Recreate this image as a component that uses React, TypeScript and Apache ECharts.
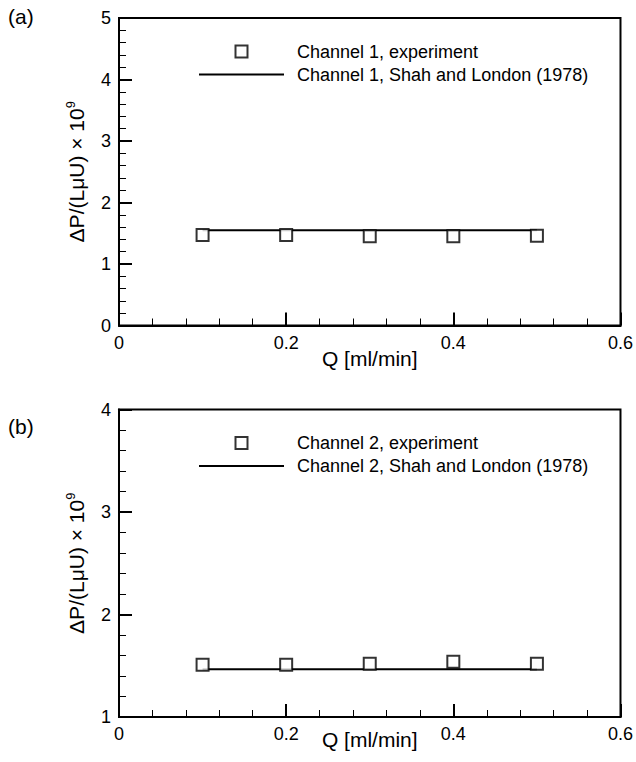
import React, { useEffect, useRef } from "react";
import * as echarts from "echarts";

// ---------- data ----------
const flowRates = [0.1, 0.2, 0.3, 0.4, 0.5];
const channel1Experiment = [1.47, 1.47, 1.45, 1.45, 1.46];
const channel1TheoryQ = [0.1, 0.5];
const channel1Theory = [1.55, 1.55];
const channel2Experiment = [1.51, 1.51, 1.52, 1.54, 1.52];
const channel2TheoryQ = [0.1, 0.5];
const channel2Theory = [1.465, 1.465];

const seriesNames = [
  "Channel 1, experiment",
  "Channel 1, Shah and London (1978)",
  "Channel 2, experiment",
  "Channel 2, Shah and London (1978)",
];
const panelLabels = ["(a)", "(b)"];
const xName = "Q [ml/min]";
const yNameMain = "ΔP/(LμU) × 10";
const yNameSup = "9";
const xRange = [0, 0.6];
const yRanges = [
  [0, 5],
  [1, 4],
];

const FONT = "'Liberation Sans', Arial, Helvetica, sans-serif";

function pairs(xs: number[], ys: number[]) {
  return xs.map((x, i) => [x, ys[i]]);
}

export default function App() {
  const ref = useRef<HTMLDivElement>(null);

  useEffect(() => {
    if (!ref.current) return;
    const chart = echarts.init(ref.current, undefined, { renderer: "svg" });

    const grids = [
      { left: 119, right: 15, top: 18, height: 307.5 },
      { left: 119, right: 15, top: 409.5, height: 307.5 },
    ];

    const makeX = (i: number, nameGap: number) => ({
      type: "value",
      gridIndex: i,
      min: xRange[0],
      max: xRange[1],
      interval: 0.2,
      name: xName,
      nameLocation: "middle",
      nameGap,
      nameMoveOverlap: false,
      nameTextStyle: { fontFamily: FONT, fontSize: 21, color: "#000" },
      axisLine: { show: true, onZero: false, lineStyle: { color: "#000", width: 2 } },
      axisTick: { show: true, inside: true, length: 13, lineStyle: { color: "#000", width: 2 } },
      minorTick: { show: true, splitNumber: 5, length: 7, lineStyle: { color: "#000", width: 1 } },
      splitLine: { show: false },
      minorSplitLine: { show: false },
      axisLabel: { fontFamily: FONT, fontSize: 18, color: "#000", margin: 8 },
    });

    const makeY = (i: number) => ({
      type: "value",
      gridIndex: i,
      min: yRanges[i][0],
      max: yRanges[i][1],
      interval: 1,
      name: `{m|${yNameMain}}{s|${yNameSup}}`,
      nameLocation: "middle",
      nameGap: 31,
      nameMoveOverlap: false,
      nameTextStyle: {
        fontFamily: FONT,
        fontSize: 21,
        color: "#000",
        rich: {
          m: { fontFamily: FONT, fontSize: 21, color: "#000", lineHeight: 24 },
          s: { fontFamily: FONT, fontSize: 13, color: "#000", verticalAlign: "top", lineHeight: 14 },
        },
      },
      axisLine: { show: true, onZero: false, lineStyle: { color: "#000", width: 2 } },
      axisTick: { show: true, inside: true, length: 13, lineStyle: { color: "#000", width: 2 } },
      minorTick: { show: true, splitNumber: 5, length: 7, lineStyle: { color: "#000", width: 1 } },
      splitLine: { show: false },
      minorSplitLine: { show: false },
      axisLabel: { fontFamily: FONT, fontSize: 18, color: "#000", margin: 8 },
    });

    const squareIcon = "path://M0 0H10V10H0Z";
    const lineIcon = "path://M0 0H85V2H0Z";

    const makeLegend = (top: number, expName: string, thName: string) => ({
      orient: "vertical",
      left: 199,
      top,
      padding: 0,
      itemGap: 5,
      itemWidth: 85,
      itemHeight: 12,
      selectedMode: false,
      textStyle: {
        fontFamily: FONT,
        fontSize: 18,
        color: "#000",
        padding: [0, 0, 0, 8],
      },
      data: [
        {
          name: expName,
          icon: squareIcon,
          itemStyle: { color: "#fff", borderColor: "#000", borderWidth: 2 },
        },
        {
          name: thName,
          icon: lineIcon,
          itemStyle: { color: "#000", borderWidth: 0 },
        },
      ],
    });

    const scatterStyle = { color: "#fff", borderColor: "#000", borderWidth: 2 };

    chart.setOption({
      animation: false,
      backgroundColor: "#fff",
      grid: grids.map((g) => ({ ...g, show: true, borderColor: "#000", borderWidth: 2, backgroundColor: "transparent" })),
      xAxis: [makeX(0, 22), makeX(1, 12)],
      yAxis: [makeY(0), makeY(1)],
      legend: [
        makeLegend(42.5, seriesNames[0], seriesNames[1]),
        makeLegend(434, seriesNames[2], seriesNames[3]),
      ],
      graphic: [
        {
          type: "text",
          left: 8,
          top: 6,
          style: { text: panelLabels[0], fontFamily: FONT, fontSize: 21, fill: "#000" },
        },
        {
          type: "text",
          left: 8,
          top: 416,
          style: { text: panelLabels[1], fontFamily: FONT, fontSize: 21, fill: "#000" },
        },
      ],
      series: [
        {
          name: seriesNames[0],
          type: "scatter",
          xAxisIndex: 0,
          yAxisIndex: 0,
          symbol: "rect",
          symbolSize: 12,
          itemStyle: scatterStyle,
          z: 3,
          data: pairs(flowRates, channel1Experiment),
        },
        {
          name: seriesNames[1],
          type: "line",
          xAxisIndex: 0,
          yAxisIndex: 0,
          symbol: "none",
          lineStyle: { color: "#000", width: 2 },
          itemStyle: { color: "#000" },
          z: 2,
          data: pairs(channel1TheoryQ, channel1Theory),
        },
        {
          name: seriesNames[2],
          type: "scatter",
          xAxisIndex: 1,
          yAxisIndex: 1,
          symbol: "rect",
          symbolSize: 12,
          itemStyle: scatterStyle,
          z: 3,
          data: pairs(flowRates, channel2Experiment),
        },
        {
          name: seriesNames[3],
          type: "line",
          xAxisIndex: 1,
          yAxisIndex: 1,
          symbol: "none",
          lineStyle: { color: "#000", width: 2 },
          itemStyle: { color: "#000" },
          z: 2,
          data: pairs(channel2TheoryQ, channel2Theory),
        },
      ],
    });

    return () => chart.dispose();
  }, []);

  return (
    <div
      ref={ref}
      style={{ position: "fixed", left: 0, top: 0, width: 636, height: 762, background: "#fff" }}
    />
  );
}
